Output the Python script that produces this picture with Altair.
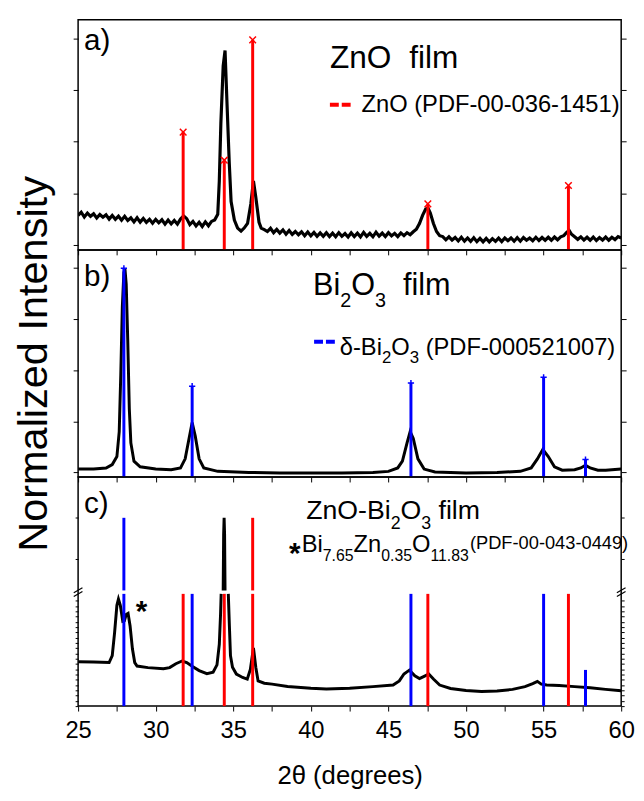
import altair as alt
import pandas as pd

# ---------------- data ----------------
# panel a) ZnO film, normalised intensity (display units 0..1 of the panel)
A_X = [25.0, 25.2, 25.4, 25.6, 25.8, 26.0, 26.2, 26.4, 26.6, 26.8, 27.0, 27.2, 27.4, 27.6, 27.8,
       28.0, 28.2, 28.4, 28.6, 28.8, 29.0, 29.2, 29.4, 29.6, 29.8, 30.0, 30.2, 30.4, 30.6, 30.8,
       31.0, 31.2, 31.4, 31.6, 31.8, 32.0, 32.2, 32.4, 32.6, 32.8, 33.0, 33.2, 33.4, 33.6, 33.8,
       34.0, 34.1, 34.2, 34.35, 34.47, 34.6, 34.74, 34.86, 35.07, 35.28, 35.5, 35.7, 35.92, 36.13,
       36.3, 36.45, 36.66, 36.8, 37.0,
       37.2, 37.4, 37.6, 37.8, 38.0, 38.2, 38.4, 38.6, 38.8, 39.0, 39.2, 39.4, 39.6, 39.8, 40.0,
       40.2, 40.4, 40.6, 40.8, 41.0, 41.2, 41.4, 41.6, 41.8, 42.0, 42.2, 42.4, 42.6, 42.8, 43.0,
       43.2, 43.4, 43.6, 43.8, 44.0, 44.2, 44.4, 44.6, 44.8, 45.0, 45.2, 45.4, 45.6, 45.8, 46.0,
       46.2, 46.4, 46.6, 46.8, 47.0, 47.2, 47.4, 47.55, 47.7, 47.9, 48.1, 48.3,
       48.5, 48.7, 48.9, 49.1, 49.3, 49.5, 49.7, 49.9, 50.1, 50.3, 50.5, 50.7, 50.9, 51.1, 51.3,
       51.5, 51.7, 51.9, 52.1, 52.3, 52.5, 52.7, 52.9, 53.1, 53.3, 53.5, 53.7, 53.9, 54.1, 54.3,
       54.5, 54.7, 54.9, 55.1, 55.3, 55.5, 55.7, 55.9, 56.1, 56.3, 56.5, 56.65, 56.8, 57.0, 57.2,
       57.4, 57.6, 57.8, 58.0, 58.2, 58.4, 58.6, 58.8, 59.0, 59.2, 59.4, 59.6, 59.8, 60.0]
A_Y = [0.150, 0.164, 0.143, 0.160, 0.146, 0.157, 0.139, 0.154, 0.142, 0.153, 0.134, 0.150, 0.133, 0.147, 0.129,
       0.146, 0.128, 0.140, 0.122, 0.140, 0.121, 0.137, 0.120, 0.133, 0.116, 0.133, 0.118, 0.131, 0.112, 0.130,
       0.113, 0.128, 0.112, 0.134, 0.148, 0.136, 0.110, 0.124, 0.104, 0.120, 0.102, 0.122, 0.105, 0.124, 0.130,
       0.155, 0.30, 0.55, 0.80, 0.867, 0.63, 0.38, 0.21, 0.13, 0.095, 0.082, 0.095, 0.115, 0.20,
       0.30, 0.23, 0.12, 0.095, 0.088,
       0.080, 0.094, 0.075, 0.089, 0.073, 0.087, 0.068, 0.084, 0.067, 0.080, 0.066, 0.079, 0.062, 0.078, 0.061,
       0.076, 0.059, 0.074, 0.059, 0.075, 0.058, 0.073, 0.057, 0.075, 0.059, 0.071, 0.056, 0.074, 0.058, 0.073,
       0.057, 0.076, 0.059, 0.072, 0.057, 0.077, 0.060, 0.073, 0.058, 0.075, 0.061, 0.072, 0.058, 0.074, 0.062,
       0.075, 0.066, 0.079, 0.090, 0.115, 0.150, 0.178, 0.182, 0.160, 0.115, 0.080, 0.062,
       0.058, 0.044, 0.057, 0.043, 0.054, 0.039, 0.055, 0.038, 0.052, 0.037, 0.053, 0.036, 0.050, 0.035, 0.050,
       0.035, 0.049, 0.037, 0.051, 0.036, 0.052, 0.040, 0.052, 0.038, 0.053, 0.038, 0.054, 0.042, 0.052, 0.040,
       0.055, 0.041, 0.054, 0.042, 0.055, 0.042, 0.056, 0.044, 0.057, 0.062, 0.077, 0.084, 0.068, 0.057, 0.046,
       0.057, 0.043, 0.055, 0.042, 0.056, 0.041, 0.054, 0.043, 0.056, 0.042, 0.055, 0.045, 0.058, 0.052]

# panel b) Bi2O3 film
B_X = [25.0, 26.0, 26.8, 27.2, 27.5, 27.65, 27.75, 27.85, 27.95, 28.02, 28.1, 28.2, 28.3, 28.4, 28.6,
       29.0, 30.0, 31.0, 31.6, 31.9, 32.15, 32.35, 32.55, 32.8, 33.1, 34.0, 36.0, 38.0, 40.0, 42.0,
       44.0, 45.0, 45.6, 45.9, 46.2, 46.4, 46.6, 46.9, 47.3, 48.0, 50.0, 52.0, 53.5, 54.2, 54.6,
       54.95, 55.3, 55.7, 56.2, 57.0, 57.4, 57.7, 58.0, 58.5, 59.0, 60.0]
B_Y = [0.035, 0.035, 0.040, 0.055, 0.090, 0.20, 0.45, 0.75, 0.90, 0.915, 0.85, 0.60, 0.30, 0.15, 0.07,
       0.045, 0.035, 0.032, 0.040, 0.080, 0.17, 0.24, 0.18, 0.08, 0.04, 0.025, 0.020, 0.018, 0.018, 0.018,
       0.020, 0.025, 0.040, 0.070, 0.15, 0.20, 0.17, 0.08, 0.035, 0.022, 0.018, 0.020, 0.025, 0.040, 0.080,
       0.122, 0.090, 0.045, 0.030, 0.032, 0.040, 0.052, 0.040, 0.030, 0.030, 0.035]

# panel c) ZnO-Bi2O3 film (broken axis: three pieces of the curve)
C1_X = [25.0, 26.0, 27.0, 27.2, 27.35, 27.5, 27.6, 27.72, 27.88, 27.98, 28.1, 28.22, 28.35, 28.5, 28.65,
        28.8, 29.5, 30.5, 30.9, 31.3, 31.7, 32.0, 32.4, 32.8, 33.3, 33.7, 33.95, 34.1, 34.18, 34.22]
C1_Y = [0.194, 0.193, 0.190, 0.22, 0.32, 0.44, 0.467, 0.44, 0.37, 0.372, 0.40, 0.405, 0.35, 0.25, 0.19,
        0.175, 0.168, 0.163, 0.168, 0.185, 0.197, 0.19, 0.172, 0.155, 0.142, 0.148, 0.18, 0.27, 0.40, 0.49]
C2_X = [34.35, 34.38, 34.41, 34.44, 34.47]
C2_Y = [0.505, 0.75, 0.822, 0.75, 0.505]
C3_X = [34.68, 34.75, 34.82, 34.95, 35.2, 35.6, 35.9, 36.1, 36.3, 36.45, 36.6, 37.0, 37.5, 38.5, 40.0,
        41.0, 42.5, 44.0, 45.3, 45.7, 46.0, 46.35, 46.7, 47.0, 47.3, 47.6, 47.9, 48.3, 49.0, 50.0,
        51.0, 52.0, 53.0, 53.8, 54.3, 54.6, 54.85, 55.2, 56.0, 57.0, 58.0, 59.0, 60.0]
C3_Y = [0.49, 0.35, 0.22, 0.17, 0.14, 0.125, 0.118, 0.16, 0.254, 0.17, 0.11, 0.10, 0.096, 0.086, 0.078,
        0.075, 0.078, 0.085, 0.092, 0.11, 0.14, 0.157, 0.132, 0.12, 0.13, 0.14, 0.118, 0.092, 0.077, 0.068,
        0.064, 0.066, 0.073, 0.085, 0.098, 0.108, 0.096, 0.092, 0.09, 0.085, 0.08, 0.073, 0.067]

# reference patterns
ZNO_POS = [31.77, 34.42, 36.25, 47.54, 56.60]        # ZnO (PDF-00-036-1451)
ZNO_H_A = [0.512, 0.39, 0.913, 0.20, 0.28]
BI_POS = [27.95, 32.35, 46.45, 55.0, 57.7]           # delta-Bi2O3 (PDF-000521007)
BI_H_B = [0.919, 0.40, 0.414, 0.439, 0.077]
BI_H_C = [0.49, 0.49, 0.49, 0.49, 0.158]
ZNO_H_C = [0.49, 0.49, 0.49, 0.49, 0.49]
C_UPPER_POS = [27.95, 36.25]
C_UPPER_PHASE = ["Bi2O3", "ZnO"]
C_UPPER_TOP = 0.822
BREAK_LO, BREAK_HI = 0.49, 0.505

X_TICKS = [25, 27.5, 30, 32.5, 35, 37.5, 40, 42.5, 45, 47.5, 50, 52.5, 55, 57.5, 60]

# ---------------- helpers ----------------
W = 550
HA, HB, HC = 233, 230, 232
LEFT_PX = 78                     # reference plot-left edge, used to place annotations
PX_PER_DEG = W / 35.0
FONT = "Liberation Sans"
RED, BLUE = "#ff0000", "#0000ff"
CW = {"0": .556, "1": .556, "2": .556, "3": .556, "4": .556, "5": .556, "6": .556, "7": .556,
      "8": .556, "9": .556, ".": .278, "-": .333, "(": .333, ")": .333, " ": .278,
      "B": .667, "i": .222, "Z": .611, "n": .556, "O": .778, "P": .667, "D": .722, "F": .611,
      "f": .278, "l": .222, "m": .833, "δ": .556, "*": .389}


def twidth(s, size):
    return sum(CW.get(ch, .556) for ch in s) * size


def runs(start_deg, items):
    """items: (text, font size, baseline y) or (None, gap_px, None)."""
    rows = []
    x = start_deg
    for text, size, yb in items:
        if text is None:
            x += size / PX_PER_DEG
            continue
        rows.append({"x": x, "y": yb, "text": text, "size": size})
        x += twidth(text, size) / PX_PER_DEG
    return pd.DataFrame(rows)


def px2deg(px):
    return 25 + (px - LEFT_PX) / PX_PER_DEG


xs = alt.Scale(domain=[25, 60], nice=False, zero=False)
ys = alt.Scale(domain=[0, 1], nice=False, zero=False)
color_scale = alt.Scale(domain=["ZnO", "Bi2O3"], range=[RED, BLUE])


def X(f="x"):
    return alt.X(f"{f}:Q", scale=xs, axis=None)


def Y(f="y"):
    return alt.Y(f"{f}:Q", scale=ys, axis=None)


def x_axis(last=False):
    if last:
        return alt.Axis(values=X_TICKS, labelExpr="datum.value % 5 == 0 ? datum.label : ''",
                        labelFontSize=24, labelPadding=8, tickSize=5, labelFlush=False,
                        title="2θ (degrees)", titleFontSize=26, titleFontWeight="normal",
                        titlePadding=20)
    return alt.Axis(values=X_TICKS, labels=False, tickSize=5, title=None)


def y_axis(values, title=None, tick=5, orient="left"):
    if title:
        return alt.Axis(values=values, labels=False, tickSize=tick, title=title, orient=orient,
                        titleFontSize=42, titleFontWeight="normal", titlePadding=18)
    return alt.Axis(values=values, labels=False, tickSize=tick, title=None, orient=orient)


def curve(df, xa, ya, sw=3):
    return alt.Chart(df).mark_line(color="black", strokeWidth=sw, clip=True).encode(
        x=alt.X("x:Q", scale=xs, axis=xa),
        y=alt.Y("y:Q", scale=ys, axis=ya),
        detail="seg:N",
        order="i:Q",
    )


def frame(df, yvals, tick=5):
    # invisible layer that only carries the right-hand tick axis
    return alt.Chart(df).mark_point(opacity=0).encode(
        x=X(),
        y=alt.Y("y:Q", scale=ys, axis=y_axis(yvals, tick=tick, orient="right")),
    )


def ref_lines(df):
    return alt.Chart(df).mark_rule(strokeWidth=3).encode(
        x=X(), y=Y("top"), y2="bottom:Q",
        color=alt.Color("phase:N", scale=color_scale, legend=None),
    )


def text_layer(df, weight="normal"):
    return alt.Chart(df).mark_text(align="left", baseline="alphabetic", font=FONT,
                                   fontWeight=weight, color="black").encode(
        x=X(), y=Y(), text="text:N", size=alt.Size("size:Q", scale=None),
    )


def dash(x1, x2, yv, col):
    d = pd.DataFrame({"x": [x1], "x2": [x2], "y": [yv]})
    return alt.Chart(d).mark_rule(strokeWidth=4, strokeDash=[9, 3], color=col).encode(
        x=X(), x2="x2:Q", y=Y())


def markers(df, shape, col, size):
    return alt.Chart(df).mark_point(shape=shape, filled=False, strokeWidth=1.5, size=size,
                                    color=col, opacity=1).encode(x=X(), y=Y("top"))


YT = [0.02, 0.245, 0.47, 0.695, 0.92]

# ---------------- panel a ----------------
dfa = pd.DataFrame({"x": A_X, "y": A_Y, "seg": "a", "i": range(len(A_X))})
refa = pd.DataFrame({"x": ZNO_POS, "top": ZNO_H_A, "bottom": 0.0, "phase": "ZnO"})
xmark = "M -1 -1 L 1 1 M -1 1 L 1 -1"
pa = alt.layer(
    curve(dfa, x_axis(), y_axis(YT), sw=3.2),
    frame(dfa, YT),
    ref_lines(refa),
    markers(refa, xmark, RED, 45),
    text_layer(pd.DataFrame([{"x": px2deg(84), "y": 0.867, "text": "a)", "size": 30}])),
    text_layer(runs(px2deg(333), [("ZnO", 32, 0.79), (None, 18, None), ("film", 32, 0.79)])),
    dash(px2deg(333), px2deg(356), 0.631, RED),
    text_layer(runs(px2deg(365), [("ZnO", 24, 0.601), (None, 6.7, None),
                                  ("(PDF-00-036-1451)", 24, 0.601)])),
).resolve_axis(x="independent", y="independent").properties(width=W, height=HA)

# ---------------- panel b ----------------
dfb = pd.DataFrame({"x": B_X, "y": B_Y, "seg": "b", "i": range(len(B_X))})
refb = pd.DataFrame({"x": BI_POS, "top": BI_H_B, "bottom": 0.0, "phase": "Bi2O3"})
pmark = "M -1 0 L 1 0 M 0 -1 L 0 1"
title_b = runs(px2deg(316), [("Bi", 31, 0.80), ("2", 20, 0.748), ("O", 31, 0.80), ("3", 20, 0.748),
                             (None, 17, None), ("film", 31, 0.80)])
leg_b = runs(px2deg(343), [("δ-Bi", 24, 0.539), ("2", 17, 0.50), ("O", 24, 0.539), ("3", 17, 0.50),
                           (None, 6.7, None), ("(PDF-000521007)", 24, 0.539)])
pb = alt.layer(
    curve(dfb, x_axis(), y_axis(YT, title="Normalized Intensity")),
    frame(dfb, YT),
    ref_lines(refb),
    markers(refb, pmark, BLUE, 40),
    text_layer(pd.DataFrame([{"x": px2deg(84), "y": 0.839, "text": "b)", "size": 30}])),
    text_layer(title_b),
    dash(px2deg(317), px2deg(339), 0.596, BLUE),
    text_layer(leg_b),
).resolve_axis(x="independent", y="independent").properties(width=W, height=HB)

# ---------------- panel c ----------------
dfc = pd.concat([
    pd.DataFrame({"x": C1_X, "y": C1_Y, "seg": "c1"}),
    pd.DataFrame({"x": C2_X, "y": C2_Y, "seg": "c2"}),
    pd.DataFrame({"x": C3_X, "y": C3_Y, "seg": "c3"}),
], ignore_index=True)
dfc["i"] = range(len(dfc))
refc = pd.concat([
    pd.DataFrame({"x": ZNO_POS, "top": ZNO_H_C, "bottom": 0.0, "phase": "ZnO"}),
    pd.DataFrame({"x": BI_POS, "top": BI_H_C, "bottom": 0.0, "phase": "Bi2O3"}),
    pd.DataFrame({"x": C_UPPER_POS, "top": C_UPPER_TOP, "bottom": BREAK_HI, "phase": C_UPPER_PHASE}),
], ignore_index=True)
YT_C = [round(0.023 * k, 3) for k in range(21)] + [0.642, 0.823]
title_c = runs(px2deg(309), [("ZnO-Bi", 27, 0.815), ("2", 18, 0.772), ("O", 27, 0.815),
                             ("3", 18, 0.772), (None, 7.5, None), ("film", 27, 0.815)])
label_c = runs(px2deg(304.5), [("Bi", 24, 0.672), ("7.65", 16, 0.634), ("Zn", 24, 0.672),
                               ("0.35", 16, 0.634), ("O", 24, 0.672), ("11.83", 16, 0.634),
                               ("(PDF-00-043-0449)", 18.5, 0.688)])
stars = pd.DataFrame([{"x": px2deg(291.5), "y": 0.625, "text": "*", "size": 30},
                      {"x": px2deg(136.5), "y": 0.37, "text": "*", "size": 30}])
brk = pd.DataFrame({"x": [24.72, 24.72, 59.72, 59.72], "x2": [25.28, 25.28, 60.28, 60.28],
                    "y": [0.478, 0.495, 0.478, 0.495], "y2": [0.500, 0.517, 0.500, 0.517]})
pc = alt.layer(
    curve(dfc, x_axis(last=True), y_axis(YT_C, tick=3)),
    frame(dfc, YT_C, tick=3),
    ref_lines(refc),
    text_layer(pd.DataFrame([{"x": px2deg(84), "y": 0.845, "text": "c)", "size": 30}])),
    text_layer(title_c),
    text_layer(label_c),
    text_layer(stars, weight="bold"),
    alt.Chart(brk).mark_rule(color="black", strokeWidth=1.2, clip=False).encode(
        x=X(), x2="x2:Q", y=Y(), y2="y2:Q"),
).resolve_axis(x="independent", y="independent").properties(width=W, height=HC)

chart = alt.vconcat(pa, pb, pc, spacing=0, bounds="flush").properties(
    padding={"left": 3, "top": 6, "right": 0, "bottom": 0}
).configure(font=FONT).configure_view(stroke="black", strokeWidth=1.5).configure_axis(
    domain=False, grid=False, tickColor="black", tickWidth=1, labelColor="black",
    titleColor="black", labelFont=FONT, titleFont=FONT
)

chart.save("out.html", embed_options={"renderer": "svg", "actions": False})
